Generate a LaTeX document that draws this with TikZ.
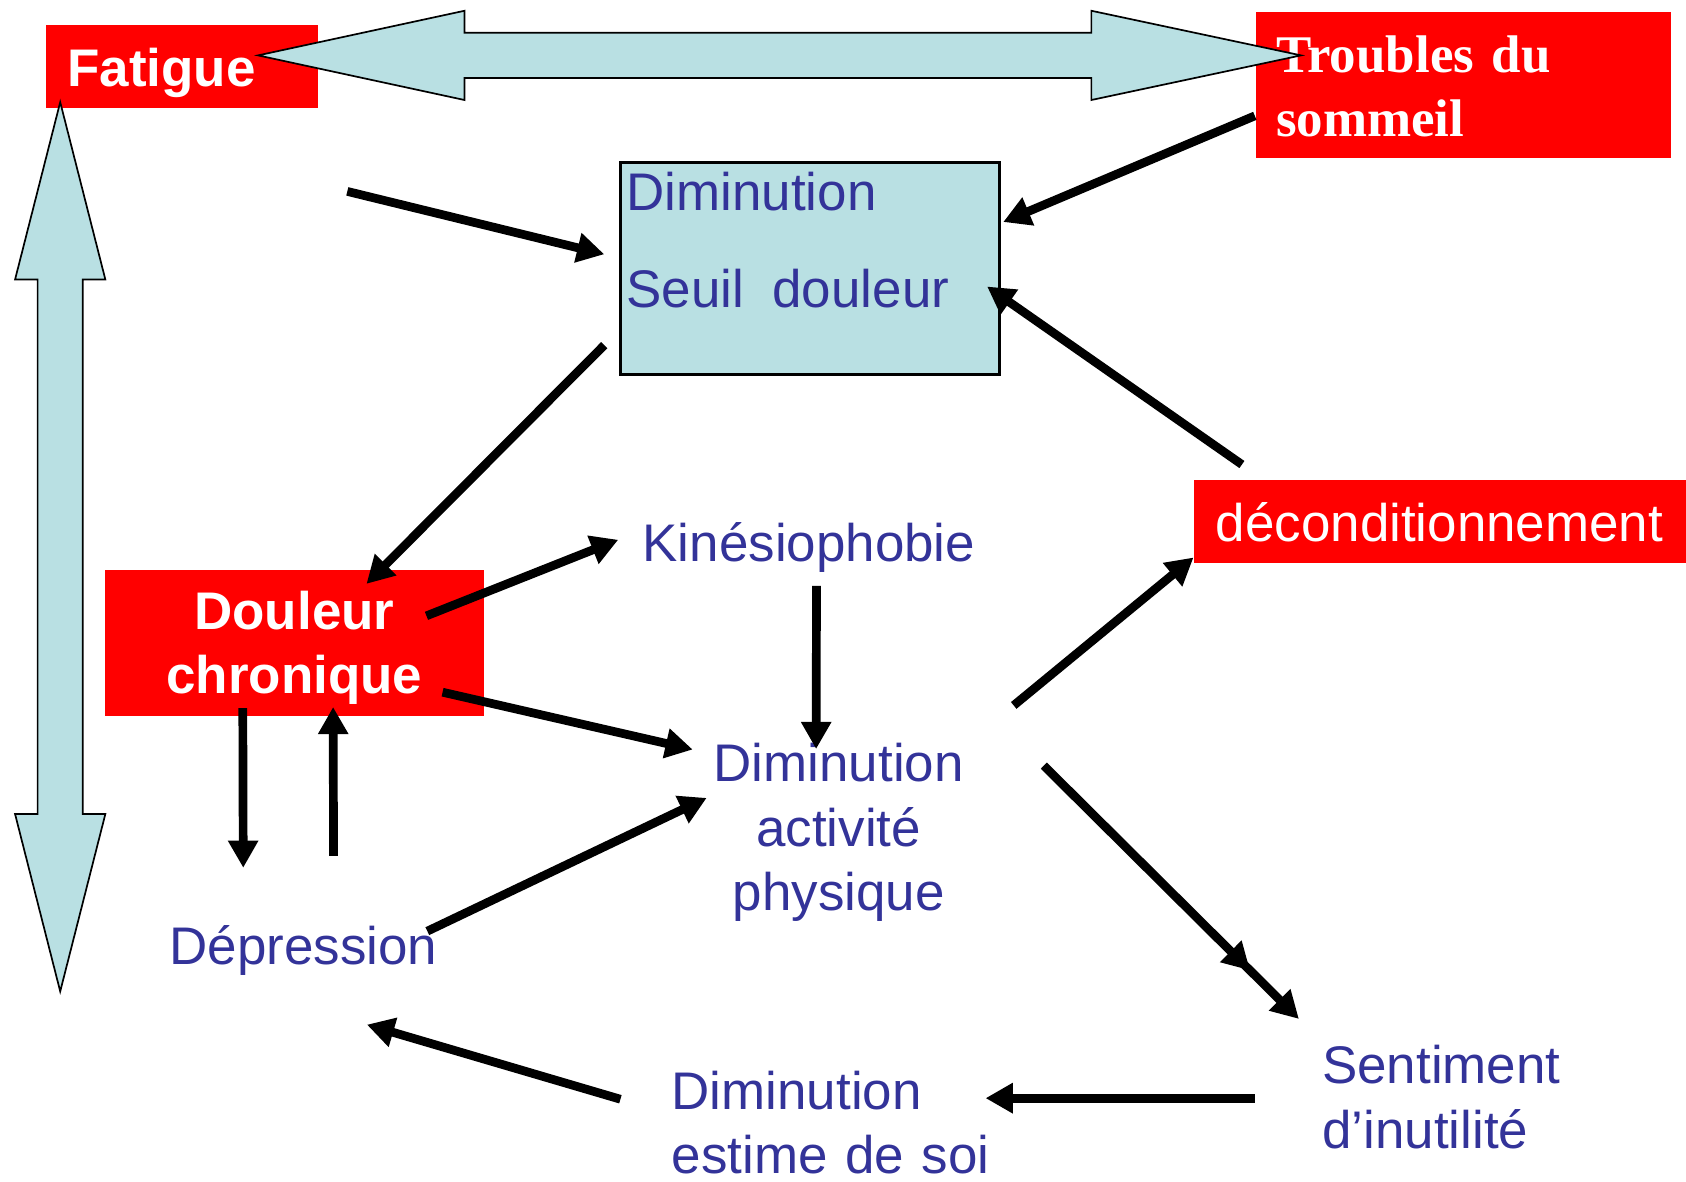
\documentclass[tikz,border=0pt]{standalone}
\usepackage{fontspec}
\setmainfont{Liberation Sans}
\newfontfamily\timesfont{Liberation Serif}
\usetikzlibrary{arrows.meta,calc}
\definecolor{glace}{HTML}{B9E0E3}
\definecolor{encre}{HTML}{333399}
\tikzset{>={Triangle[length=7.2pt,width=7.6pt]}}
\tikzset{
  redbox/.style={fill=red, text=white, inner sep=0pt, anchor=north west,
    font=\fontsize{14}{17}\selectfont\bfseries},
  bluebox/.style={draw=black, fill=glace, line width=0.8pt, inner sep=0pt},
  mot/.style={text=encre, inner sep=0pt, font=\fontsize{14}{17}\selectfont},
  fleche/.style={->, line width=2.3pt},
  bloc/.style={fill=glace, draw=black, line width=0.45pt}
}

\begin{document}
\begin{tikzpicture}[x=0.01cm, y=-0.01cm]
  \useasboundingbox (0,0) rectangle (1568,1099);

  % boites rouges
  \node[redbox, minimum width=2.53cm, minimum height=0.77cm, text width=2.13cm,
    text depth=0pt, align=left] (fatigue) at (42,23) {Fatigue};
  \node[redbox, minimum width=3.86cm, minimum height=1.36cm, text width=3.48cm,
    text height=10.5pt, align=left,
    font=\fontsize{14}{17}\timesfont\bfseries] (troubles) at (1167,10) {Troubles du\\sommeil};
  \node[redbox, minimum width=3.52cm, minimum height=1.36cm, text width=3.52cm,
    text height=13pt, align=center] (douleur) at (97,529) {Douleur\\chronique};
  \node[redbox, font=\fontsize{14}{17}\selectfont, minimum width=4.58cm,
    minimum height=0.77cm, text width=4.18cm, text depth=0pt,
    align=left] (decond) at (1110,446) {déconditionnement};

  % seuil
  \node[bluebox, minimum width=3.52cm, minimum height=1.97cm, anchor=north west] (seuil) at (576,150) {};
  \node[mot, anchor=base west, text width=3.3cm, align=left] (seuiltxt) at (582,196) {Diminution\\[8.6pt]Seuil\hspace{7.5pt}douleur};

  % textes
  \node[mot, anchor=base west] (kines) at (597,522) {Kinésiophobie};
  \node[mot, anchor=base, text width=2.4cm, align=center] (aktiv) at (780,727) {Diminution\\activité\\physique};
  \node[mot, anchor=base west] (depr) at (157,897) {Dépression};
  \node[mot, anchor=base west, text width=3.2cm, align=left] (estime) at (624,1032) {Diminution\\estime de soi};
  \node[mot, anchor=base west, text width=2.3cm, align=left] (sentim) at (1229,1008) {Sentiment\\d’inutilité};
  \coordinate (depart) at (323,178);

  % grandes fleches
  \draw[bloc] (240,51.5) -- (432,10) -- (432,30.5) -- (1015,30.5) -- (1015,10) -- (1210,51.5)
    -- (1015,93) -- (1015,72.5) -- (432,72.5) -- (432,93) -- cycle;
  \draw[bloc] (56,95) -- (98,260) -- (77,260) -- (77,757) -- (98,757) -- (56,922)
    -- (14,757) -- (35,757) -- (35,260) -- (14,260) -- cycle;

  % fleches noires
  \draw[fleche] (depart) -- ($(seuil.west)+(-14,-13.5)$);
  \draw[fleche] ($(troubles.west)+(0,29)$) -- ($(seuil.east)+(2,-43.5)$);
  \draw[fleche] ($(decond.north west)+(45,-14)$) -- ($(seuil.east)+(-13,16.5)$);
  \draw[fleche] ($(seuil.south west)+(-14,-29)$) -- ($(douleur.north)+(67,14)$);
  \draw[fleche] ($(douleur.east)+(-54,-25)$) -- ($(kines.west)+(-22,-7)$);
  \draw[fleche] ($(douleur.east)+(-39,46)$) -- ($(aktiv.west)+(-15,-77)$);
  \draw[fleche] ($(kines.south)+(7,12)$) -- ($(aktiv.north)+(-21,6)$);
  \draw[fleche] ($(douleur.south)+(-48,-8)$) -- ($(depr.north)+(-56,-53)$);
  \draw[fleche] ($(depr.north)+(28,-64)$) -- ($(douleur.south)+(36,-9)$);
  \draw[fleche] ($(depr.east)+(-10,-18)$) -- ($(aktiv.west)+(-2,-32)$);
  \draw[fleche] ($(aktiv.east)+(42,-118)$) -- ($(decond.south west)+(0,-6)$);
  \draw[line width=2.3pt, -{Triangle[length=7.2pt,width=7.6pt,sep=11pt]Triangle[length=7.2pt,width=7.6pt]}]
    ($(aktiv.east)+(70,-62)$) -- ($(sentim.north west)+(-21,-24)$);
  \draw[fleche] ($(sentim.west)+(-62,1)$) -- ($(estime.east)+(-29,-23)$);
  \draw[fleche] ($(estime.west)+(-47,-22)$) -- ($(depr.south)+(59,45)$);
\end{tikzpicture}
\end{document}
